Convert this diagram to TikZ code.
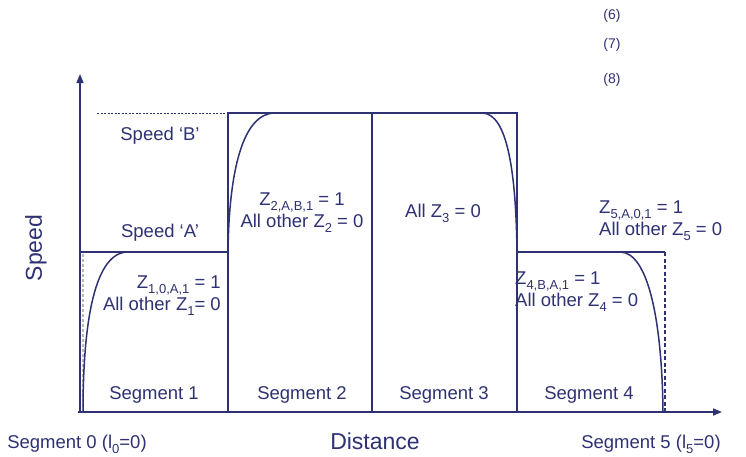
\documentclass[tikz,border=0pt]{standalone}
\usepackage{fontspec}
\setmainfont{Liberation Sans}
\usepackage{tikz}
\usetikzlibrary{
  arrows.meta,
  positioning,
  calc
}
\definecolor{navy}{RGB}{46,49,114}
\newcommand{\zsub}[1]{\raisebox{-0.5ex}{\fontsize{13}{13}\selectfont #1}}

\begin{document}
\begin{tikzpicture}[x=1pt, y=-1pt,
  every node/.style={text=navy, inner sep=1pt, font=\fontsize{18.5}{22}\selectfont},
  axisline/.style={navy, line width=1.6pt, -{Triangle[length=9pt,width=7pt]}},
  segline/.style={navy, line width=1.5pt},
  profile/.style={navy, line width=1.5pt}]
\useasboundingbox (0,0) rectangle (746,456);

% axes
\coordinate (origin) at (80,412);
\coordinate (ytip) at (80,74);
\coordinate (xtip) at (722,412);
\draw[axisline] (origin) -- (ytip);
\draw[axisline] ($(origin)+(-2,0)$) -- (xtip);

% segment boxes
\draw[segline] (80,412) -- (80,252) -- (228,252) -- (228,412);
\draw[segline] (228,252) -- (228,113) -- (372,113) -- (372,412);
\draw[segline] (372,113) -- (517,113) -- (517,412);
\draw[segline] (517,252) -- (665,252);
\draw[navy, line width=1.2pt, dash pattern=on 4pt off 2.5pt] (665,252) -- (665,412);
\draw[gray!55, line width=1.5pt, dash pattern=on 3pt off 2pt] (83,254) -- (83,410);
\draw[navy, line width=0.6pt, dash pattern=on 2pt off 1.5pt] (97,113) -- (226,113);

% speed profile
\draw[profile] (83,412) .. controls (83,320) and (95,252) .. (128,252);
\draw[profile] (228,252) .. controls (229,170) and (243,113) .. (275,113);
\draw[profile] (482,113) .. controls (508,113) and (516,175) .. (517,252);
\draw[profile] (620,252) .. controls (648,252) and (662,320) .. (663,412);

% labels
\node (speedB) at (160,136) {Speed ‘B’};
\node (speedA) at (160,233) {Speed ‘A’};
\node[rotate=90, font=\fontsize{23}{25}\selectfont] (ylab) at (36,248) {Speed};
\node[font=\fontsize{23}{25}\selectfont] (xlab) at (375,441) {Distance};
\foreach \i/\x in {1/154,2/302,3/444,4/589}{
  \node (seglab\i) at (\x,395) {Segment \i};
}
\node (seg0) at (77,444) {Segment 0 (l\zsub{0}=0)};
\node (seg5) at (651,444) {Segment 5 (l\zsub{5}=0)};

\node[anchor=east, align=right] (zone) at (222,296) {Z\zsub{1,0,A,1} = 1\\All other Z\zsub{1}= 0};
\node[align=center] (ztwo) at (302,213) {Z\zsub{2,A,B,1} = 1\\All other Z\zsub{2} = 0};
\node (zthree) at (443,213) {All Z\zsub{3} = 0};
\node[anchor=west, align=left] (zfour) at (514,292) {Z\zsub{4,B,A,1} = 1\\All other Z\zsub{4} = 0};
\node[anchor=west, align=left] (zfive) at (598,221) {Z\zsub{5,A,0,1} = 1\\All other Z\zsub{5} = 0};

% equation numbers
\foreach \n/\y in {6/16,7/45,8/80}{
  \node[font=\fontsize{14}{15}\selectfont] (eq\n) at (612,\y) {(\n)};
}
\end{tikzpicture}
\end{document}
